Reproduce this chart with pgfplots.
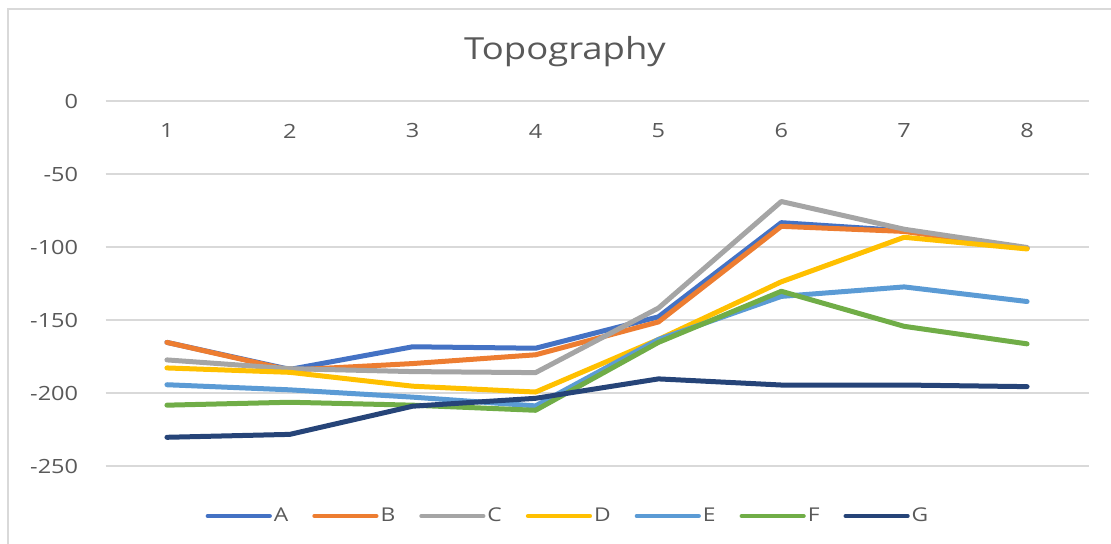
\documentclass[border=0pt]{standalone}
\usepackage{fontspec}
\setmainfont{Open Sans}[FakeStretch=1.2]
\usepackage{pgfplots}
\pgfplotsset{compat=1.18}
\definecolor{cA}{HTML}{4472C4}
\definecolor{cB}{HTML}{ED7D31}
\definecolor{cC}{HTML}{A5A5A5}
\definecolor{cD}{HTML}{FFC000}
\definecolor{cE}{HTML}{5B9BD5}
\definecolor{cF}{HTML}{70AD47}
\definecolor{cG}{HTML}{264478}
\definecolor{txt}{HTML}{595959}
\definecolor{grd}{HTML}{D9D9D9}
\begin{document}
\begin{tikzpicture}
\useasboundingbox (0,0) rectangle (555.5pt,272pt);
\draw[grd, line width=1pt] (3.75pt,0pt) -- (3.75pt,267.5pt) -- (555.5pt,267.5pt);
\node[txt, anchor=base, font=\fontsize{15.2}{18}\selectfont, inner sep=0pt] at (282.5pt,242pt) {Topography};
\begin{axis}[
  at={(52.75pt,38.75pt)}, anchor=south west,
  scale only axis, width=491.5pt, height=182.5pt,
  xmin=0.5, xmax=8.5, ymin=-250, ymax=0,
  xtick={1,2,3,4,5,6,7,8}, ytick={-250,-200,-150,-100,-50,0},
  axis line style={draw=none}, major tick length=0pt,
  ymajorgrids, grid style={grd, line width=1pt},
  /pgf/number format/assume math mode=true,
  ticklabel style={font=\fontsize{9.8}{12}\selectfont, text=txt},
  xticklabel pos=upper,
  xticklabel style={anchor=center, yshift=-14.75pt},
  yticklabel style={anchor=east, inner sep=0pt, xshift=-13.5pt},
  every axis plot/.append style={line width=2.5pt, line join=round, line cap=round, mark=none},
  legend columns=-1,
  legend style={draw=none, fill=none, at={(0.4705,-0.1356)}, anchor=center,
    font=\fontsize{9.5}{11}\selectfont, text=txt, nodes={inner sep=1pt},
    /tikz/every even column/.append style={column sep=11pt}},
  legend image code/.code={\draw[#1, line width=2.1pt] (0pt,0pt) -- (31pt,0pt);},
]
\addplot[cA] coordinates {(1,-165) (2,-183.5) (3,-168) (4,-169) (5,-147.5) (6,-83) (7,-88.5) (8,-100.5)};
\addplot[cB] coordinates {(1,-165) (2,-184) (3,-179.5) (4,-173.5) (5,-151) (6,-85.5) (7,-89) (8,-100.5)};
\addplot[cC] coordinates {(1,-177) (2,-183) (3,-185) (4,-185.7) (5,-141.5) (6,-68.5) (7,-87.5) (8,-100)};
\addplot[cD] coordinates {(1,-182.5) (2,-185.5) (3,-195) (4,-199) (5,-163) (6,-123.5) (7,-93) (8,-101)};
\addplot[cE] coordinates {(1,-194) (2,-197.5) (3,-202.5) (4,-208.5) (5,-163) (6,-133.5) (7,-127) (8,-137)};
\addplot[cF] coordinates {(1,-208) (2,-206) (3,-208) (4,-211.5) (5,-165) (6,-130) (7,-154) (8,-166)};
\addplot[cG] coordinates {(1,-230) (2,-228) (3,-208.7) (4,-203.3) (5,-190) (6,-194.2) (7,-194.2) (8,-195.3)};
\legend{A,B,C,D,E,F,G}
\end{axis}
\end{tikzpicture}
\end{document}
